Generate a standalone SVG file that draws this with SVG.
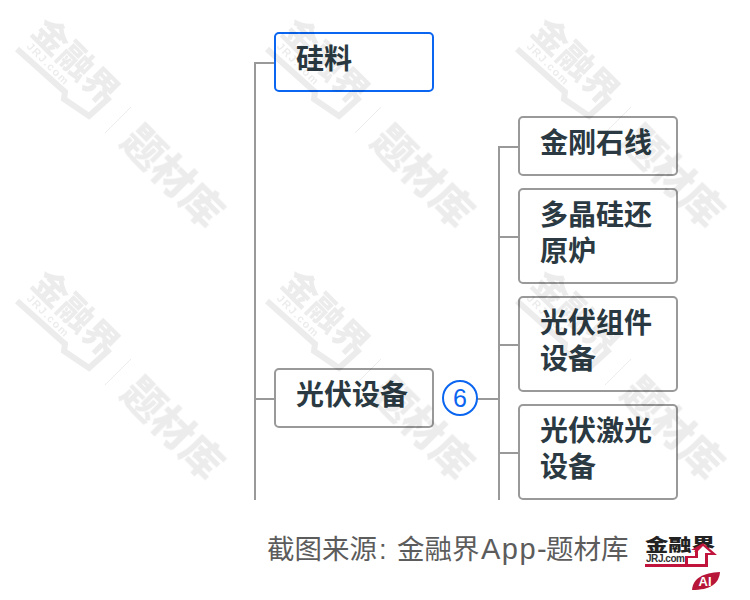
<svg xmlns="http://www.w3.org/2000/svg" width="750" height="600" viewBox="0 0 750 600">
<style>
text{font-family:"Noto Sans CJK SC","Liberation Sans",sans-serif}
.n{fill:#fff;stroke:#999;stroke-width:2}
.t{font-size:28px;font-weight:700;fill:#2b3a42}
.c{fill:none;stroke:#999;stroke-width:2}
.w{fill:#000;font-weight:900}
.l{font-family:"Liberation Sans",sans-serif}
</style>
<defs>
<g id="wm" opacity="0.075">
<text class="w" font-size="35" transform="translate(30,33) rotate(45)">金融界</text>
<text class="w l" font-size="11" font-weight="700" transform="translate(26,47) rotate(45)" textLength="54">JRJ.com</text>
<path d="M17 49L65 92L64 99L89 116L110 97" fill="none" stroke="#000" stroke-width="6"/>
<path d="M105 133L131 107" stroke="#000" stroke-width="1" fill="none"/>
<text class="w" font-size="41" transform="translate(119,143) rotate(45)">题材库</text>
</g>
</defs>
<rect width="750" height="600" fill="#fff"/>
<g id="connectors">
<path class="c" d="M275 63H255V500M255 399H275"/>
<path class="c" d="M477 399H499M519 147H499V500M499 237H519M499 345H519M499 453H519"/>
</g>
<g id="n1"><rect x="275" y="33" width="158" height="58" rx="4" fill="#fff" stroke="#0a65f0" stroke-width="2"/><text class="t" x="296" y="69">硅料</text></g>
<g id="n2"><rect class="n" x="275" y="369" width="158" height="58" rx="4"/><text class="t" x="296" y="405">光伏设备</text></g>
<g id="badge"><circle cx="460" cy="398" r="17" fill="#fff" stroke="#0a65f0" stroke-width="2"/><text x="460" y="407" font-size="25" text-anchor="middle" fill="#0a65f0" class="l">6</text></g>
<g id="n3"><rect class="n" x="519" y="117" width="158" height="58" rx="4"/><text class="t" x="540" y="153">金刚石线</text></g>
<g id="n4"><rect class="n" x="519" y="189" width="158" height="94" rx="4"/><text class="t" x="540" y="225">多晶硅还</text><text class="t" x="540" y="261">原炉</text></g>
<g id="n5"><rect class="n" x="519" y="297" width="158" height="94" rx="4"/><text class="t" x="540" y="333">光伏组件</text><text class="t" x="540" y="369">设备</text></g>
<g id="n6"><rect class="n" x="519" y="405" width="158" height="94" rx="4"/><text class="t" x="540" y="441">光伏激光</text><text class="t" x="540" y="477">设备</text></g>
<g id="watermarks">
<use href="#wm"/><use href="#wm" x="250"/><use href="#wm" x="500"/>
<use href="#wm" y="252"/><use href="#wm" x="250" y="252"/><use href="#wm" x="500" y="252"/>
</g>
<g id="footer">
<text y="559" font-size="27.5" fill="#5c5c5c" class="l" style="font-family:'Liberation Sans','Noto Sans CJK SC',sans-serif"><tspan x="267">截图来源</tspan><tspan x="379">:</tspan><tspan x="397">金融界</tspan><tspan x="481" font-size="29" letter-spacing="1.5">App-</tspan><tspan x="546">题材库</tspan></text>
<text x="645" y="551" font-size="17" font-weight="900" fill="#222" textLength="70" lengthAdjust="spacingAndGlyphs">金融界</text>
<text x="646" y="562" font-size="10" font-weight="700" fill="#333" class="l" textLength="39">JRJ.com</text>
<path d="M645 564H685V556H695V550H691L703 543L717 555H708V567H645Z" fill="#c0143c"/>
<path d="M688 564V558H698V551L703 546L711 553H705V564Z" fill="#fff"/>
<path d="M692 590C693 578 703 573 720 572C719 584 710 590 692 590Z" fill="#b81638"/>
<text x="705" y="586" font-size="13" font-weight="700" fill="#fff" text-anchor="middle" class="l">AI</text>
</g>
</svg>
